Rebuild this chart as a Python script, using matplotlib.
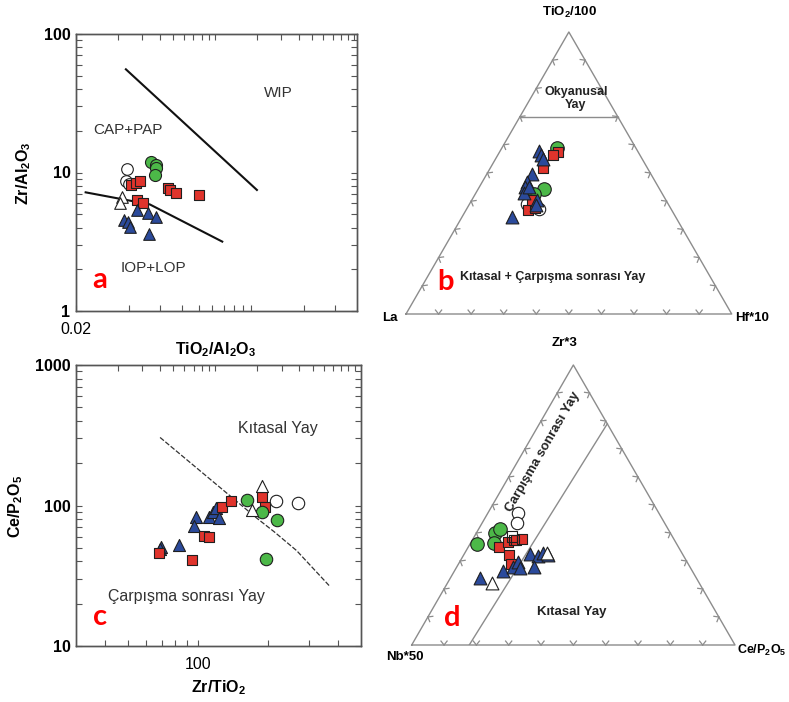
import numpy as np
import matplotlib
matplotlib.use('Agg')
import matplotlib.pyplot as plt
from matplotlib.ticker import FixedLocator, NullFormatter, LogLocator

plt.rcParams['font.family'] = ['Liberation Sans', 'DejaVu Sans']
plt.rcParams['mathtext.fontset'] = 'custom'
plt.rcParams['mathtext.rm'] = 'Liberation Sans:bold'
plt.rcParams['mathtext.default'] = 'rm'

# ---------------- colours ----------------
GREEN = '#4cb848'
RED = '#e0342c'
BLUE = '#2b4a9b'
EDGE = '#1f1f1f'
GRAY = '#8c8c8c'

# ---------------- panel a data (TiO2/Al2O3 vs Zr/Al2O3) ----------------
a_open_circ_x = [0.0393, 0.0388, 0.0400]
a_open_circ_y = [10.6, 8.7, 8.3]
a_open_tri_x = [0.0368, 0.0356]
a_open_tri_y = [6.69, 6.05]
a_red_x = [0.0414, 0.0438, 0.0462, 0.0448, 0.0479, 0.0669, 0.0690, 0.0746, 0.100]
a_red_y = [8.12, 8.44, 8.73, 6.33, 6.05, 7.69, 7.48, 7.15, 6.88]
a_green_x = [0.0538, 0.0575, 0.0575, 0.0562]
a_green_y = [11.97, 11.3, 10.7, 9.59]
a_blue_x = [0.0375, 0.0397, 0.0405, 0.0448, 0.0515, 0.0575, 0.0520]
a_blue_y = [4.54, 4.41, 4.06, 5.36, 5.07, 4.75, 3.58]
a_line1_x = [0.0385, 0.215]
a_line1_y = [55.6, 7.48]
a_line2_x = [0.0227, 0.0526, 0.1364]
a_line2_y = [7.19, 5.89, 3.17]

# ---------------- panel c data (Zr/TiO2 vs Ce/P2O5) ----------------
c_blue_x = [69.5, 68.9, 83.0, 98.2, 96.6, 111.0, 116.5, 119.7, 123.6]
c_blue_y = [50.4, 48.8, 52.4, 83.2, 71.5, 83.2, 90.3, 95.5, 81.9]
c_red_x = [68.3, 94.1, 106.3, 112.0, 126.6, 138.4, 188.0, 194.0]
c_red_y = [46.1, 40.9, 60.7, 60.0, 97.1, 108.0, 115.5, 98.1]
c_green_x = [163.0, 188.0, 219.0, 196.0]
c_green_y = [109.0, 90.3, 78.5, 41.4]
c_open_tri_x = [189.0, 170.0]
c_open_tri_y = [138.0, 92.9]
c_open_circ_x = [216.6, 268.0]
c_open_circ_y = [108.0, 103.7]
c_line_x = [68.8, 179.0, 212.0, 265.0, 369.0]
c_line_y = [305.0, 81.1, 65.1, 47.7, 26.4]

# ---------------- panel b data (La, TiO2/100, Hf*10) % ----------------
b_blue = [(30.2, 57.8, 12.0), (30.4, 56.4, 13.2), (30.4, 54.9, 14.7), (36.6, 49.6, 13.8),
          (39.5, 46.9, 13.6), (41.0, 44.9, 14.1), (42.3, 43.0, 14.7), (39.6, 45.1, 15.3),
          (39.5, 40.4, 20.1), (40.8, 38.6, 20.6), (50.4, 34.3, 15.3)]
b_red = [(24.4, 57.6, 18.0), (26.8, 56.4, 16.8), (32.2, 51.7, 16.1), (44.2, 36.9, 18.9),
         (41.6, 37.5, 20.9), (41.2, 40.4, 18.4)]
b_green = [(24.3, 58.8, 16.9), (35.5, 44.3, 20.2), (39.4, 42.6, 18.0)]
b_open_circ = [(43.4, 39.0, 17.6), (40.5, 37.1, 22.4)]
b_boundary = [(30.0, 70.0, 0.0), (0.0, 70.0, 30.0)]

# ---------------- panel d data (Nb*50, Zr*3, Ce/P2O5) % ----------------
d_green = [(61.7, 36.1, 2.2), (54.2, 40.1, 5.7), (52.0, 41.3, 6.7), (56.3, 36.5, 7.2)]
d_red = [(55.7, 34.9, 9.4), (51.7, 36.9, 11.4), (49.0, 37.5, 13.5), (46.9, 37.7, 15.4),
         (53.8, 32.1, 14.1), (54.9, 28.9, 16.2)]
d_open_sq = [(49.6, 38.7, 11.7), (49.6, 37.5, 12.9)]
d_open_circ = [(43.5, 47.0, 9.5), (45.7, 43.7, 10.6)]
d_blue = [(67.0, 23.8, 9.2), (58.4, 26.5, 15.1), (54.9, 27.7, 17.4), (52.1, 29.8, 18.1),
          (52.8, 27.4, 19.8), (47.2, 32.4, 20.4), (44.9, 31.8, 23.3), (42.8, 33.0, 24.2),
          (48.2, 28.0, 23.8), (41.7, 32.1, 26.2)]
d_open_tri = [(64.1, 22.3, 13.6), (41.8, 32.7, 25.5)]
d_boundary = [(82.2, 0.0, 17.8), (0.0, 79.0, 21.0)]

W, H = 789, 702
fig = plt.figure(figsize=(W / 100, H / 100), dpi=100)


def px_axes(left, top, right, bottom):
    return fig.add_axes([left / W, (H - bottom) / H, (right - left) / W, (bottom - top) / H])


def style_log(ax, ylims, ylabels):
    ax.set_yscale('log')
    ax.set_ylim(*ylims)
    ticks = [10 ** k for k in range(int(round(np.log10(ylims[0]))), int(round(np.log10(ylims[1]))) + 1)]
    ax.set_yticks(ticks, labels=ylabels, fontweight='bold', fontsize=11.5)
    ax.yaxis.set_minor_locator(LogLocator(base=10, subs=range(2, 10)))
    ax.yaxis.set_minor_formatter(NullFormatter())
    ax.tick_params(which='both', direction='in', length=4, width=0.8, color='#555555',
                   right=True, top=False)
    ax.tick_params(axis='y', which='major', pad=4)
    ax.tick_params(axis='x', which='major', pad=8, labelsize=11.5)
    for s in ax.spines.values():
        s.set_color('#555555')
        s.set_linewidth(1.0)


def top_twin(ax, span):
    axt = ax.twiny()
    axt.set_xscale('log')
    axt.set_xlim(1, span)
    axt.xaxis.set_major_locator(LogLocator(base=10))
    axt.xaxis.set_minor_locator(LogLocator(base=10, subs=range(2, 10)))
    axt.xaxis.set_major_formatter(NullFormatter())
    axt.xaxis.set_minor_formatter(NullFormatter())
    axt.tick_params(which='both', direction='in', length=4, width=0.8, color='#555555',
                    labeltop=False, labelbottom=False)
    for s in axt.spines.values():
        s.set_color('#555555')
        s.set_linewidth(1.0)
    return axt


def sc(ax, x, y, marker, face, s):
    ax.scatter(x, y, marker=marker, s=s, facecolor=face, edgecolor=EDGE, linewidths=0.8,
               zorder=5, clip_on=False)


# ================= panel a =================
ax_a = px_axes(76, 34, 357, 311)
ax_a.set_xscale('log')
ax_a.set_xlim(0.02, 0.8)
style_log(ax_a, (1, 100), ['1', '10', '100'])
ax_a.set_xticks([0.02], labels=['0.02'], fontsize=11.5)
ax_a.xaxis.set_minor_locator(FixedLocator([0.04, 0.06, 0.08, 0.10, 0.12, 0.14, 0.16, 0.18, 0.2, 0.4, 0.6]))
ax_a.xaxis.set_minor_formatter(NullFormatter())
top_twin(ax_a, 105)

ax_a.plot(a_line1_x, a_line1_y, color='#111111', lw=1.5, zorder=3)
ax_a.plot(a_line2_x, a_line2_y, color='#111111', lw=1.5, zorder=3)
sc(ax_a, a_open_circ_x, a_open_circ_y, 'o', 'white', 70)
sc(ax_a, a_open_tri_x, a_open_tri_y, '^', 'white', 70)
sc(ax_a, a_red_x, a_red_y, 's', RED, 45)
sc(ax_a, a_green_x, a_green_y, 'o', GREEN, 75)
sc(ax_a, a_blue_x, a_blue_y, '^', BLUE, 70)

ax_a.text(0.719, 0.787, 'WIP', transform=ax_a.transAxes, ha='center', va='center', fontsize=11, color='#333333')
ax_a.text(0.186, 0.653, 'CAP+PAP', transform=ax_a.transAxes, ha='center', va='center', fontsize=11, color='#333333')
ax_a.text(0.277, 0.154, 'IOP+LOP', transform=ax_a.transAxes, ha='center', va='center', fontsize=11, color='#333333')
ax_a.text(0.084, 0.082, 'a', transform=ax_a.transAxes, ha='center', va='baseline', fontsize=21,
          fontweight='bold', color='red', family=['Lato', 'DejaVu Sans'])
ax_a.text(-0.185, 0.498, r'Zr/Al$_2$O$_3$', transform=ax_a.transAxes, rotation=90, ha='center',
          va='center', fontsize=11.5, fontweight='bold')
ax_a.text(0.495, -0.141, r'TiO$_2$/Al$_2$O$_3$', transform=ax_a.transAxes, ha='center',
          va='center', fontsize=11.5, fontweight='bold')

# ================= panel c =================
ax_c = px_axes(76, 365, 361, 646)
ax_c.set_xscale('log')
ax_c.set_xlim(30, 500)
style_log(ax_c, (10, 1000), ['10', '100', '1000'])
ax_c.set_xticks([100], labels=['100'], fontsize=11.5)
ax_c.xaxis.set_minor_locator(FixedLocator([40, 50, 60, 70, 80, 90, 200, 300, 400]))
ax_c.xaxis.set_minor_formatter(NullFormatter())
top_twin(ax_c, 111)

ax_c.plot(c_line_x, c_line_y, color='#333333', lw=0.9, ls=(0, (4, 1.5)), zorder=3)
sc(ax_c, c_blue_x, c_blue_y, '^', BLUE, 75)
sc(ax_c, c_red_x, c_red_y, 's', RED, 52)
sc(ax_c, c_green_x, c_green_y, 'o', GREEN, 80)
sc(ax_c, c_open_tri_x, c_open_tri_y, '^', 'white', 75)
sc(ax_c, c_open_circ_x, c_open_circ_y, 'o', 'white', 80)

ax_c.text(0.707, 0.775, 'Kıtasal Yay', transform=ax_c.transAxes, ha='center', va='center', fontsize=11.5, color='#333333')
ax_c.text(0.387, 0.175, 'Çarpışma sonrası Yay', transform=ax_c.transAxes, ha='center', va='center', fontsize=11.5, color='#333333')
ax_c.text(0.084, 0.075, 'c', transform=ax_c.transAxes, ha='center', va='baseline', fontsize=21,
          fontweight='bold', color='red', family=['Lato', 'DejaVu Sans'])
ax_c.text(-0.2105, 0.496, r'Ce/P$_2$O$_5$', transform=ax_c.transAxes, rotation=90, ha='center',
          va='center', fontsize=11.5, fontweight='bold')
ax_c.text(0.5, -0.149, r'Zr/TiO$_2$', transform=ax_c.transAxes, ha='center',
          va='center', fontsize=11.5, fontweight='bold')

# ================= ternary helpers =================
SQ3 = np.sqrt(3) / 2


def tern(pts):
    p = np.asarray(pts, dtype=float)
    p = p / p.sum(axis=1, keepdims=True)
    t, r = p[:, 1], p[:, 2]
    return r + t / 2, t * SQ3


def tern_frame(ax, side_px):
    ax.set_xlim(0, 1)
    ax.set_ylim(0, SQ3)
    ax.axis('off')
    V = np.array([[0, 0], [1, 0], [0.5, SQ3], [0, 0]])
    ax.plot(V[:, 0], V[:, 1], color=GRAY, lw=1.0, zorder=2, clip_on=False)
    L = 5.0 / side_px
    ang = np.deg2rad(38)
    sides = [(np.array([0, 0]), np.array([1, 0])),
             (np.array([1, 0]), np.array([0.5, SQ3])),
             (np.array([0.5, SQ3]), np.array([0, 0]))]
    for a, b in sides:
        u = (b - a) / np.linalg.norm(b - a)
        n = np.array([-u[1], u[0]])  # inward normal
        for k in range(1, 10):
            P = a + (b - a) * k / 10
            for sgn in (-1, 1):
                d = np.cos(ang) * n + sgn * np.sin(ang) * u
                ax.plot([P[0], P[0] + L * d[0]], [P[1], P[1] + L * d[1]],
                        color=GRAY, lw=0.9, zorder=2, clip_on=False)


def tsc(ax, pts, marker, face, s):
    x, y = tern(pts)
    ax.scatter(x, y, marker=marker, s=s, facecolor=face, edgecolor=EDGE, linewidths=0.8,
               zorder=5, clip_on=False)


# ================= panel b =================
ax_b = px_axes(406, 32, 731.7, 314)
tern_frame(ax_b, 325.7)
bx, by = tern(b_boundary)
ax_b.plot(bx, by, color=GRAY, lw=1.0, zorder=2)
tsc(ax_b, b_open_circ, 'o', 'white', 80)
tsc(ax_b, b_green, 'o', GREEN, 95)
tsc(ax_b, b_red, 's', RED, 60)
tsc(ax_b, b_blue, '^', BLUE, 85)

ax_b.text(0.5035, 0.927, r'TiO$_2$/100', ha='center', va='center', fontsize=9.5, fontweight='bold')
ax_b.text(-0.049, -0.012, 'La', ha='center', va='center', fontsize=9.5, fontweight='bold')
ax_b.text(1.064, -0.012, 'Hf*10', ha='center', va='center', fontsize=9.5, fontweight='bold')
ax_b.text(0.522, 0.663, 'Okyanusal\nYay', ha='center', va='center', fontsize=9, fontweight='bold',
          linespacing=1.1, color='#222222')
ax_b.text(0.45, 0.1145, 'Kıtasal + Çarpışma sonrası Yay', ha='center', va='center', fontsize=9,
          fontweight='bold', color='#222222')
ax_b.text(0.12, 0.074, 'b', ha='center', va='baseline', fontsize=21, fontweight='bold', color='red',
          family=['Lato', 'DejaVu Sans'])

# ================= panel d =================
ax_d = px_axes(411.7, 365, 735, 645)
tern_frame(ax_d, 323.3)
dx, dy = tern(d_boundary)
ax_d.plot(dx, dy, color=GRAY, lw=1.0, zorder=2)
tsc(ax_d, d_green, 'o', GREEN, 95)
tsc(ax_d, d_red, 's', RED, 60)
tsc(ax_d, d_open_sq, 's', 'none', 60)
tsc(ax_d, d_open_circ, 'o', 'white', 80)
tsc(ax_d, d_blue, '^', BLUE, 85)
tsc(ax_d, d_open_tri, '^', 'white', 85)

ax_d.text(0.474, 0.934, 'Zr*3', ha='center', va='center', fontsize=9.5, fontweight='bold')
ax_d.text(-0.022, -0.036, 'Nb*50', ha='center', va='center', fontsize=9.5, fontweight='bold')
ax_d.text(1.006, -0.0155, r'Ce/P$_2$O$_5$', ha='left', va='center', fontsize=9, fontweight='bold')
ax_d.text(0.407, 0.598, 'Çarpışma sonrası Yay', ha='center', va='center', rotation=60,
          fontsize=9.5, fontweight='bold', color='#222222', rotation_mode='anchor')
ax_d.text(0.495, 0.103, 'Kıtasal Yay', ha='center', va='center', fontsize=9.5, fontweight='bold',
          color='#222222')
ax_d.text(0.124, 0.059, 'd', ha='center', va='baseline', fontsize=21, fontweight='bold', color='red',
          family=['Lato', 'DejaVu Sans'])

fig.savefig('out.png', dpi=100)
